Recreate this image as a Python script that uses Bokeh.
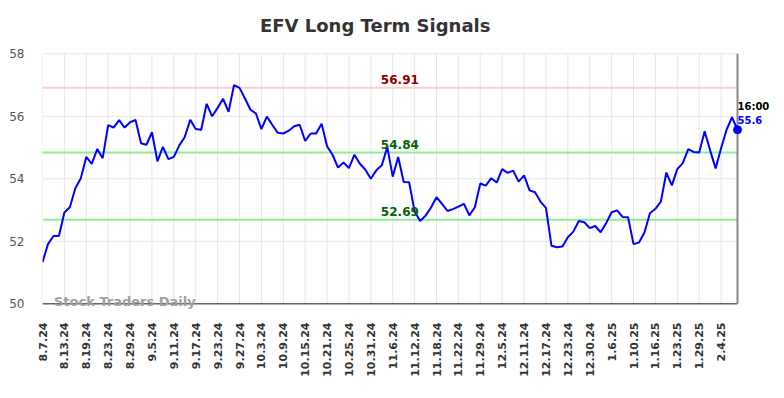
from bokeh.plotting import figure
from bokeh.models import Range1d, FixedTicker, Label
from bokeh.embed import file_html
from bokeh.resources import INLINE

# ---- data ----
tick_labels = ["8.7.24", "8.13.24", "8.19.24", "8.23.24", "8.29.24", "9.5.24", "9.11.24",
               "9.17.24", "9.23.24", "9.27.24", "10.3.24", "10.9.24", "10.15.24", "10.21.24",
               "10.25.24", "10.31.24", "11.6.24", "11.12.24", "11.18.24", "11.22.24",
               "11.29.24", "12.5.24", "12.11.24", "12.17.24", "12.23.24", "12.30.24",
               "1.6.25", "1.10.25", "1.16.25", "1.23.25", "1.29.25", "2.4.25"]

prices = [51.33, 51.91, 52.17, 52.17, 52.92, 53.09, 53.70, 54.02, 54.70, 54.48,
          54.95, 54.66, 55.72, 55.64, 55.88, 55.64, 55.81, 55.88, 55.14, 55.09,
          55.49, 54.56, 55.02, 54.63, 54.70, 55.07, 55.34, 55.89, 55.59, 55.57,
          56.40, 56.00, 56.27, 56.56, 56.14, 57.00, 56.91, 56.57, 56.21, 56.09,
          55.59, 55.99, 55.72, 55.47, 55.45, 55.54, 55.68, 55.73, 55.21, 55.45,
          55.45, 55.76, 55.04, 54.77, 54.36, 54.52, 54.34, 54.77, 54.48, 54.29,
          54.00, 54.27, 54.43, 55.02, 54.07, 54.70, 53.90, 53.89, 52.95, 52.65,
          52.82, 53.08, 53.41, 53.20, 52.97, 53.03, 53.11, 53.20, 52.83, 53.09,
          53.85, 53.78, 54.02, 53.88, 54.31, 54.19, 54.26, 53.91, 54.11, 53.63,
          53.57, 53.27, 53.07, 51.86, 51.81, 51.83, 52.13, 52.31, 52.65, 52.61,
          52.42, 52.49, 52.29, 52.58, 52.93, 52.99, 52.78, 52.77, 51.91, 51.96,
          52.28, 52.90, 53.04, 53.27, 54.20, 53.79, 54.31, 54.50, 54.95, 54.86,
          54.84, 55.52, 54.91, 54.33, 54.98, 55.57, 55.97, 55.57]

y_ticks = [50, 52, 54, 56, 58]
resistance = [56.91]
supports = [54.84, 52.69]
last_time = "16:00"
last_value_text = "55.6"
title_text = "EFV Long Term Signals"
watermark = "Stock Traders Daily"
tick_step = 4

idx = list(range(len(prices)))
last = idx[-1]
x_ticks = list(range(0, len(prices), tick_step))[:len(tick_labels)]

# ---- layout (pixels) ----
W, H = 782, 396
FRAME_LEFT = 42          # px of first point / left plot edge
LAST_PX = 737            # px of last point (right plot edge)
FRAME_BOTTOM = 312       # px where the drawing frame ends (a bit below y=50)
Y_TOP_PX, Y_BOT_PX = 53.3, 303.3   # px of y=58 and y=50
ymin, ymax = y_ticks[0], y_ticks[-1]

px_per_x = (LAST_PX - FRAME_LEFT) / last
x_end = (W - FRAME_LEFT) / px_per_x
px_per_y = (Y_BOT_PX - Y_TOP_PX) / (ymax - ymin)
y_start = ymin - (FRAME_BOTTOM - Y_BOT_PX) / px_per_y
y_end = ymax + Y_TOP_PX / px_per_y

FONT = "DejaVu Sans"

p = figure(width=W, height=H, output_backend="svg", toolbar_location=None,
           x_range=Range1d(0, x_end), y_range=Range1d(y_start, y_end),
           min_border_left=FRAME_LEFT, min_border_right=0, min_border_top=0,
           min_border_bottom=H - FRAME_BOTTOM)
p.outline_line_color = None
p.background_fill_color = "white"
p.xgrid.visible = False
p.ygrid.visible = False

# axes (labels only; lines drawn as data segments)
xa = p.xaxis[0]
xa.ticker = FixedTicker(ticks=x_ticks)
xa.major_label_overrides = {t: lab for t, lab in zip(x_ticks, tick_labels)}
xa.major_label_orientation = 3.14159265 / 2
xa.major_label_text_font = FONT
xa.major_label_text_font_size = "11px"
xa.major_label_text_font_style = "bold"
xa.major_label_text_color = "#333333"
xa.major_label_standoff = int(round(321.7 - FRAME_BOTTOM))
xa.major_tick_out = 0
xa.major_tick_in = 0
xa.minor_tick_out = 0
xa.minor_tick_in = 0
xa.axis_line_color = None

ya = p.yaxis[0]
ya.ticker = FixedTicker(ticks=y_ticks)
ya.major_label_text_font = FONT
ya.major_label_text_font_size = "12px"
ya.major_label_text_color = "#555555"
ya.major_label_standoff = 18
ya.major_tick_out = 0
ya.major_tick_in = 0
ya.minor_tick_out = 0
ya.minor_tick_in = 0
ya.axis_line_color = None

GRID = "#e6e6e6"
# grid lines
p.segment(x0=x_ticks, x1=x_ticks, y0=[ymin] * len(x_ticks), y1=[ymax] * len(x_ticks),
          line_color=GRID, line_width=1)
p.segment(x0=[0] * len(y_ticks), x1=[last] * len(y_ticks), y0=y_ticks, y1=y_ticks,
          line_color=GRID, line_width=1)

# level lines
p.segment(x0=[0] * len(resistance), x1=[last] * len(resistance), y0=resistance, y1=resistance,
          line_color="#ffcccc", line_width=2)
p.segment(x0=[0] * len(supports), x1=[last] * len(supports), y0=supports, y1=supports,
          line_color="#90ee90", line_width=2)

# axis line and right edge line
p.segment(x0=[0], x1=[last], y0=[ymin], y1=[ymin], line_color="#666666", line_width=1.5)
p.segment(x0=[last], x1=[last], y0=[ymin], y1=[ymax], line_color="#888888", line_width=2)

# price line
p.line(idx, prices, line_color="#0000ff", line_width=2)
p.scatter([last], [prices[-1]], size=8, color="#0000ff")

# level labels
lab_x = 65.3
for r in resistance:
    p.add_layout(Label(x=lab_x, y=r, y_offset=8, text=f"{r:.2f}", text_align="center",
                       text_baseline="middle", text_font=FONT, text_font_size="12px",
                       text_font_style="bold", text_color="#8b0000"))
for s in supports:
    p.add_layout(Label(x=lab_x, y=s, y_offset=8, text=f"{s:.2f}", text_align="center",
                       text_baseline="middle", text_font=FONT, text_font_size="12px",
                       text_font_style="bold", text_color="#006400"))

# last value labels
p.add_layout(Label(x=last, y=prices[-1], y_offset=23, text=last_time, text_align="left",
                   text_baseline="middle", text_font=FONT, text_font_size="10px",
                   text_font_style="bold", text_color="#000000"))
p.add_layout(Label(x=last, y=prices[-1], y_offset=10, text=last_value_text, text_align="left",
                   text_baseline="middle", text_font=FONT, text_font_size="10px",
                   text_font_style="bold", text_color="#0000ff"))

# watermark
p.add_layout(Label(x=2.1, y=ymin, y_offset=2, text=watermark, text_align="left",
                   text_baseline="middle", text_font=FONT, text_font_size="13px",
                   text_font_style="bold", text_color="#a0a0a0"))

# title
p.add_layout(Label(x=60.8, y=ymax, y_offset=28, text=title_text, text_align="center",
                   text_baseline="middle", text_font=FONT, text_font_size="18px",
                   text_font_style="bold", text_color="#333333"))

open("out.html", "w").write(file_html(p, INLINE))
